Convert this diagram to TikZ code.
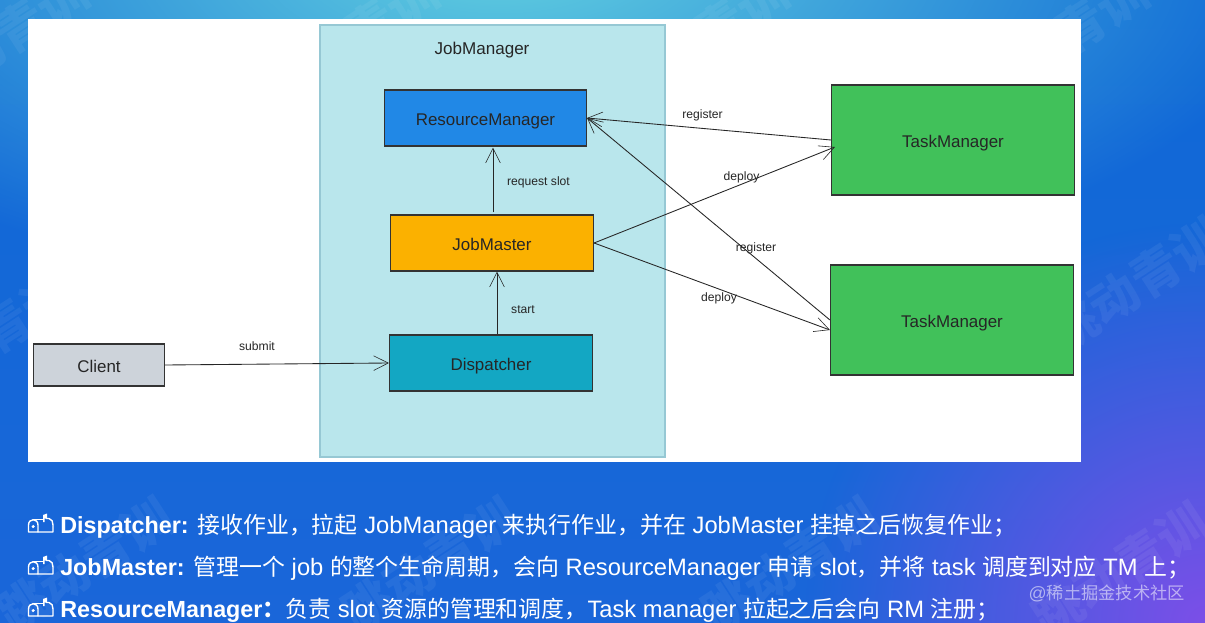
\documentclass[tikz,border=0pt]{standalone}
\usepackage{fontspec}
\setmainfont{Liberation Sans}
\newfontfamily\cjk[Scale=0.965]{Noto Sans CJK SC}
\newfontfamily\wmfont{Noto Sans CJK SC}
\usetikzlibrary{arrows.meta,calc,fadings}
\newcommand{\zh}[1]{{\cjk #1}}
\newcommand{\bd}[1]{{\fontsize{17.5}{20}\selectfont\bfseries #1}}
\definecolor{panelblue}{HTML}{B9E6EC}
\definecolor{rmblue}{HTML}{2188E6}
\definecolor{jmorange}{HTML}{FBB100}
\definecolor{dispteal}{HTML}{13A7C3}
\definecolor{tmgreen}{HTML}{41C15A}
\definecolor{clientgrey}{HTML}{CDD3DA}
\definecolor{bgbase}{HTML}{0F69D6}
\definecolor{bglow}{HTML}{1A66D9}
\definecolor{bgtop}{HTML}{62D0E0}
\definecolor{bgpurple}{HTML}{7C4FE8}
\tikzfading[name=radfade,inner color=transparent!0,outer color=transparent!100]
\newcommand{\mailicon}[1]{%
  \begin{scope}[shift={(0,#1)},icn]
    \draw (28.5,532) -- (28.5,525) .. controls (28.5,518) and (38,518) .. (38,525) -- (38,532) -- cycle;
    \draw (33,519.5) -- (43,519.5);
    \draw (46,518.5) -- (49,518.5) .. controls (52,519) and (53,522) .. (53,525) -- (53,532) -- (38,532);
    \fill[white] (43,522) -- (43,515) -- (47,513.5) -- (47,518) -- (44.5,518.5) -- (44.5,522) -- cycle;
    \fill[white] (33.2,526.5) circle (1.7);
  \end{scope}}
\tikzset{
  box/.style={draw=black!80,line width=0.85pt,minimum height=#1,inner sep=0pt,text=black!85,text height=10.7pt,text depth=0pt,font=\fontsize{12.7}{14}\selectfont},
  conn/.style={draw=black!85,line width=0.65pt,-{Straight Barb[length=11pt,width=11pt,line width=0.45pt]}},
  lbl/.style={text=black!85,font=\fontsize{9.1}{10}\selectfont,inner sep=0pt},
  desc/.style={text=white,anchor=base west,inner sep=0pt,font=\fontsize{17.8}{20}\selectfont},
  icn/.style={draw=white,line width=1.05pt,line join=round,line cap=round},
  wm/.style={text=white,opacity=0.06,rotate=33,font=\wmfont\bfseries\fontsize{37}{40}\selectfont,inner sep=0pt}
}
\begin{document}
\begin{tikzpicture}[x=0.75pt,y=-0.75pt]
\useasboundingbox (0,0) rectangle (1205,623);
% background
\begin{scope}
\clip (0,0) rectangle (1205,623);
\shade[top color=bgbase,bottom color=bglow] (0,0) rectangle (1205,623);
\fill[bgtop,path fading=radfade] (500,-40) ellipse [x radius=800,y radius=340];
\fill[bgpurple,path fading=radfade] (1205,623) circle [radius=400];
\node[wm] (w1) at (0,40) {跳动青训};
\node[wm] (w2) at (350,40) {跳动青训};
\node[wm] (w3) at (700,40) {跳动青训};
\node[wm] (w4) at (1060,40) {跳动青训};
\node[wm] (w5) at (-15,340) {跳动青训};
\node[wm] (w6) at (1135,285) {跳动青训};
\node[wm] (w7) at (85,565) {跳动青训};
\node[wm] (w8) at (430,565) {跳动青训};
\node[wm] (w9) at (790,565) {跳动青训};
\node[wm] (w10) at (1120,570) {跳动青训};
\end{scope}
% diagram panel
\fill[white] (28,19) rectangle (1081,462);
\node[draw={rgb,255:red,150;green,200;blue,212},line width=1pt,fill=panelblue,minimum width=345*0.75pt,minimum height=432*0.75pt,inner sep=0pt] (JMgr) at (492.5,241) {};
\node[text=black!85,font=\fontsize{12.8}{14}\selectfont,inner sep=0pt] (JMgrTitle) at (482,50.5) {JobManager};
% nodes
\node[box=56*0.75pt,fill=rmblue,minimum width=202*0.75pt] (RM) at (485.5,118) {ResourceManager};
\node[box=56*0.75pt,fill=jmorange,minimum width=203*0.75pt] (JM) at (492,243) {JobMaster};
\node[box=56*0.75pt,fill=dispteal,minimum width=203*0.75pt] (DI) at (491,363) {Dispatcher};
\node[box=42*0.75pt,fill=clientgrey,minimum width=131*0.75pt] (CL) at (99,365) {Client};
\node[box=110*0.75pt,fill=tmgreen,minimum width=243*0.75pt] (TM1) at (953,140) {TaskManager};
\node[box=110*0.75pt,fill=tmgreen,minimum width=243*0.75pt] (TM2) at (952,320) {TaskManager};
% connectors
\draw[conn] (CL.east) -- (DI.west);
\draw[conn] ($(DI.north)+(6,0)$) -- ($(JM.south)+(5,0)$);
\draw[conn] ($(JM.north)+(1,-2)$) -- ($(RM.south)+(7.5,1)$);
\draw[conn] (TM1.west) -- (RM.east);
\draw[conn] (TM2.west) -- (RM.east);
\draw[conn] (JM.east) -- ($(TM1.west)+(4,7)$);
\draw[conn] (JM.east) -- ($(TM2.west)+(0,10)$);
% labels
\node[lbl] (Lsubmit) at (257,346.5) {submit};
\node[lbl] (Lreq) at (538.5,182.5) {request slot};
\node[lbl] (Lstart) at (523,309.5) {start};
\node[lbl] (Lreg1) at (702.5,115.5) {register};
\node[lbl] (Ldep1) at (741.5,177.5) {deploy};
\node[lbl] (Lreg2) at (756,248.5) {register};
\node[lbl] (Ldep2) at (719,298.5) {deploy};
% description lines
\mailicon{0}
\mailicon{42}
\mailicon{84}
\node[desc] (d1) at (60,533) {\bd{Dispatcher:} \zh{接收作业，拉起} JobManager \zh{来执行作业，并在} JobMaster \zh{挂掉之后恢复作业；}};
\node[desc] (d2) at (60,575) {\bd{JobMaster:} \zh{管理一个} job \zh{的整个生命周期，会向} ResourceManager \zh{申请} slot\zh{，并将} task \zh{调度到对应} TM \zh{上；}};
\node[desc] (d3) at (60,617) {\bd{ResourceManager}\zh{\textbf{：}}\zh{负责} slot \zh{资源的管理和调度，}Task manager \zh{拉起之后会向} RM \zh{注册；}};
\node[text=white,opacity=.55,anchor=base east,inner sep=0pt,font=\fontsize{13.4}{15}\selectfont] (wmark) at (1185,599) {@\zh{稀土掘金技术社区}};
\end{tikzpicture}
\end{document}
